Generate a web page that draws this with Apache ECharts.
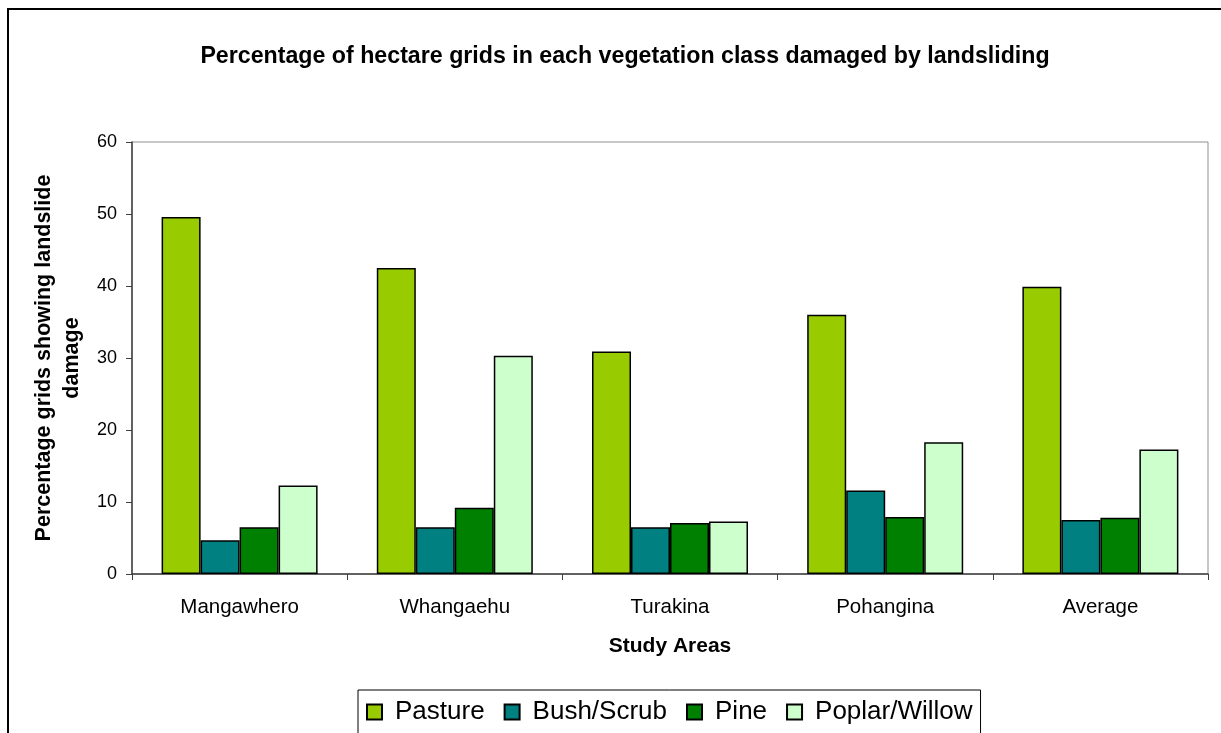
<!DOCTYPE html>
<html>
<head>
<meta charset="utf-8">
<script src="https://cdn.jsdelivr.net/npm/echarts@6/dist/echarts.min.js"></script>
<style>
    html, body { margin: 0; padding: 0; background: #fff; }
    #chart { width: 1221px; height: 733px; }
</style>
</head>
<body>
<div id="chart"></div>
<script>
// study areas along the x axis
var areas = ['Mangawhero', 'Whangaehu', 'Turakina', 'Pohangina', 'Average'];

// % of hectare grids damaged, per vegetation class
var pasture = [49.6, 42.5, 30.9, 36.0, 39.9];
var bushScrub = [4.7, 6.5, 6.5, 11.6, 7.5];
var pine = [6.5, 9.2, 7.1, 7.9, 7.8];
var poplarWillow = [12.3, 30.3, 7.3, 18.3, 17.3];

var yTicks = [0, 10, 20, 30, 40, 50, 60];

(function() {
    var FONT = 'Liberation Sans, Arial, sans-serif';
    var chart = echarts.init(document.getElementById('chart'), null, {renderer: 'canvas'});

    function bar(name, data, color) {
        return {
            name: name,
            type: 'bar',
            data: data,
            barWidth: 39,
            barGap: '0%',
            itemStyle: { color: color, borderColor: '#000', borderWidth: 1.5 },
            emphasis: { disabled: true }
        };
    }

    var option = {
        animation: false,
        backgroundColor: '#fff',
        textStyle: { fontFamily: FONT },
        title: {
            text: 'Percentage of hectare grids in each vegetation class damaged by landsliding',
            left: 620,
            top: 40,
            textAlign: 'center',
            textStyle: { fontFamily: FONT, fontSize: 23.2, fontWeight: 'bold', color: '#000' }
        },
        graphic: [{
            type: 'rect',
            shape: { x: 8, y: 9, width: 1300, height: 800 },
            style: { fill: 'none', stroke: '#000', lineWidth: 2 },
            silent: true
        }],
        legend: {
            left: 358,
            top: 690,
            padding: [9, 8, 30, 8],
            borderColor: '#000',
            borderWidth: 1,
            itemWidth: 15,
            itemHeight: 15,
            itemGap: 19,
            icon: 'rect',
            textStyle: { fontFamily: FONT, fontSize: 26, color: '#000', padding: [0, 0, 0, 8] },
            data: ['Pasture', 'Bush/Scrub', 'Pine', 'Poplar/Willow']
        },
        grid: {
            left: 132,
            right: 13,
            top: 142,
            bottom: 159,
            outerBoundsMode: 'none',
            show: true,
            borderColor: '#909090',
            borderWidth: 1
        },
        xAxis: {
            type: 'category',
            data: areas,
            name: 'Study Areas',
            nameLocation: 'middle',
            nameGap: 62,
            nameTextStyle: { fontFamily: FONT, fontSize: 21, fontWeight: 'bold', color: '#000' },
            axisLine: { lineStyle: { color: '#404040', width: 1.5 } },
            axisTick: { show: true, alignWithLabel: false, length: 6, lineStyle: { color: '#404040' } },
            axisLabel: { fontFamily: FONT, fontSize: 20.5, color: '#000', margin: 23 }
        },
        yAxis: {
            type: 'value',
            min: yTicks[0],
            max: yTicks[yTicks.length - 1],
            interval: 10,
            name: 'Percentage grids showing landslide\ndamage',
            nameLocation: 'middle',
            nameGap: 46,
            nameTextStyle: { fontFamily: FONT, fontSize: 21.5, fontWeight: 'bold', color: '#000', lineHeight: 28 },
            axisLine: { show: true, lineStyle: { color: '#404040', width: 1.5 } },
            axisTick: { show: true, length: 6, lineStyle: { color: '#404040' } },
            axisLabel: { fontFamily: FONT, fontSize: 18, color: '#000', margin: 15 },
            splitLine: { show: false }
        },
        series: [
            bar('Pasture', pasture, '#99CC00'),
            bar('Bush/Scrub', bushScrub, '#008080'),
            bar('Pine', pine, '#008000'),
            bar('Poplar/Willow', poplarWillow, '#CCFFCC')
        ]
    };

    chart.setOption(option);
})();
</script>
</body>
</html>
